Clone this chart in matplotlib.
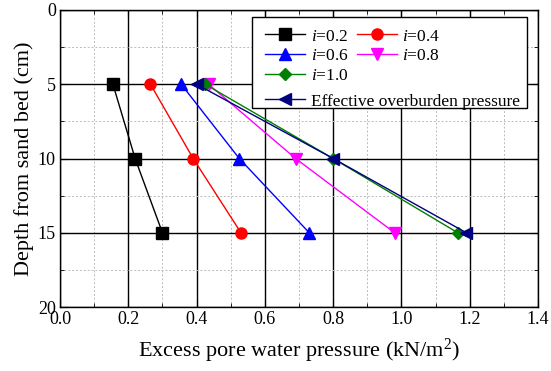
import matplotlib
matplotlib.use("Agg")
import matplotlib.pyplot as plt
from matplotlib.patches import Rectangle
from matplotlib.ticker import MultipleLocator, FormatStrFormatter

plt.rcParams["font.family"] = "Liberation Serif"
plt.rcParams["mathtext.fontset"] = "custom"
plt.rcParams["mathtext.rm"] = "Liberation Serif"
plt.rcParams["mathtext.it"] = "Liberation Serif:italic"

# Profondeurs (cm)
depth = [5, 10, 15]

# Surpression interstitielle (kN/m2) pour chaque gradient i
p_02 = [0.155, 0.22, 0.30]
p_04 = [0.265, 0.39, 0.53]
p_06 = [0.355, 0.525, 0.73]
p_08 = [0.435, 0.69, 0.98]
p_10 = [0.425, 0.80, 1.165]
p_eff = [0.40, 0.80, 1.19]

series = [
    (p_02, "$i$=0.2", "black", "s"),
    (p_04, "$i$=0.4", "red", "o"),
    (p_06, "$i$=0.6", "blue", "^"),
    (p_08, "$i$=0.8", "magenta", "v"),
    (p_10, "$i$=1.0", "green", "D"),
    (p_eff, "Effective overburden pressure", "navy", "<"),
]

fig = plt.figure(figsize=(5.51, 3.71), dpi=100)
ax = fig.add_axes([60 / 551, 1 - 307 / 371, 478 / 551, 297 / 371])

handles = {}
for vals, lab, col, mk in series:
    ms = 6.5 if mk == "D" else 8
    h, = ax.plot(vals, depth, color=col, marker=mk, markersize=ms, lw=1.0,
                 label=lab, zorder=3)
    handles[lab] = h

ax.set_xlim(0, 1.4)
ax.set_ylim(20, 0)
ax.xaxis.set_major_locator(MultipleLocator(0.2))
ax.xaxis.set_minor_locator(MultipleLocator(0.1))
ax.yaxis.set_major_locator(MultipleLocator(5))
ax.yaxis.set_minor_locator(MultipleLocator(2.5))
ax.xaxis.set_major_formatter(FormatStrFormatter("%.1f"))
ax.grid(which="major", color="black", lw=1.0)
ax.grid(which="minor", color="#bbbbbb", lw=0.7, ls=(0, (2, 2)))
ax.tick_params(which="both", direction="in", top=True, right=True, labelsize=13)
ax.tick_params(which="major", length=5, pad=3)
ax.tick_params(which="minor", length=3)
for s in ax.spines.values():
    s.set_linewidth(1.0)

ax.set_xlabel("Excess pore water pressure (kN/m$^2$)", fontsize=16, labelpad=6)
ax.set_ylabel("Depth from sand bed (cm)", fontsize=16, labelpad=3)

# Legenda: duas colunas + uma linha longa, com moldura comum
labs = ["$i$=0.2", "$i$=0.6", "$i$=1.0", "$i$=0.4", "$i$=0.8"]
leg1 = ax.legend([handles[l] for l in labs], labs, ncol=2, frameon=False,
                 loc="upper left", bbox_to_anchor=(255 / 551, 1 - 18 / 371),
                 bbox_transform=fig.transFigure, fontsize=12.5,
                 handlelength=2.3, handletextpad=0.3, columnspacing=0.5,
                 labelspacing=0.2, borderpad=0.1)
ax.add_artist(leg1)
leg2 = ax.legend([handles["Effective overburden pressure"]],
                 ["Effective overburden pressure"], frameon=False,
                 loc="upper left", bbox_to_anchor=(255 / 551, 1 - 83 / 371),
                 bbox_transform=fig.transFigure, fontsize=12.5,
                 handlelength=2.3, handletextpad=0.3, borderpad=0.1)
ax.add_patch(Rectangle((252 / 551, 1 - 108 / 371), 275 / 551, 91 / 371,
                       transform=fig.transFigure, facecolor="white",
                       edgecolor="black", lw=1.0, zorder=4, clip_on=False))
leg1.set_zorder(5)
leg2.set_zorder(5)

fig.savefig("out.png", dpi=100)
